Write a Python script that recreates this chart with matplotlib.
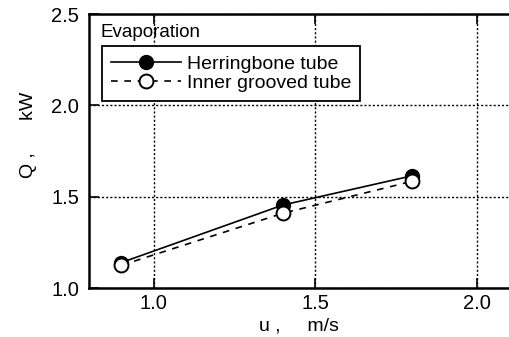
import matplotlib
matplotlib.use('Agg')
import matplotlib.pyplot as plt

# data
u_vals        = [0.9, 1.4, 1.8]
q_herring     = [1.14, 1.455, 1.615]
q_grooved     = [1.125, 1.41, 1.585]
label_herring = 'Herringbone tube'
label_grooved = 'Inner grooved tube'
xticks        = [1.0, 1.5, 2.0]
yticks        = [1.0, 1.5, 2.0, 2.5]

plt.rcParams['font.family'] = ['Liberation Sans', 'DejaVu Sans']

fig = plt.figure(figsize=(5.09, 3.37), dpi=100)
ax = fig.add_axes([0.175, 0.145, 0.825, 0.813])

ax.plot(u_vals, q_herring, '-', color='black', lw=1.2,
        marker='o', ms=10, mfc='black', mec='black', label=label_herring, zorder=3)
ax.plot(u_vals, q_grooved, '--', color='black', lw=1.2, dashes=(4, 4),
        marker='o', ms=10, mfc='white', mec='black', mew=1.4, label=label_grooved, zorder=4)

ax.set_xlim(0.8, 2.1)
ax.set_ylim(1.0, 2.5)
ax.set_xticks(xticks)
ax.set_yticks(yticks)
ax.set_xticklabels(['%.1f' % v for v in xticks])
ax.set_yticklabels(['%.1f' % v for v in yticks])
ax.tick_params(direction='in', length=7, width=1.2, labelsize=14.5, top=True)
ax.tick_params(axis='x', pad=4)
ax.tick_params(axis='y', pad=7)
ax.grid(True, linestyle=(0, (1.5, 1.5)), color='black', lw=1.0)

for side in ['left', 'bottom', 'top']:
    ax.spines[side].set_linewidth(1.8)
ax.spines['right'].set_visible(False)

ax.set_xlabel('u ,     m/s', fontsize=14)
ax.xaxis.set_label_coords(0.5, -0.108)
ax.set_ylabel('Q ,      kW', fontsize=14)
ax.yaxis.set_label_coords(-0.125, 0.56)

ax.text(0.028, 0.965, 'Evaporation', transform=ax.transAxes,
        fontsize=13.5, va='top', ha='left')
leg = ax.legend(loc='upper left', bbox_to_anchor=(0.031, 0.883), fontsize=14,
                frameon=True, fancybox=False, edgecolor='black', framealpha=1,
                handlelength=3.6, handletextpad=0.3, borderpad=0.45,
                labelspacing=0.1, borderaxespad=0)
leg.get_frame().set_linewidth(1.3)

fig.savefig('out.png', dpi=100)
